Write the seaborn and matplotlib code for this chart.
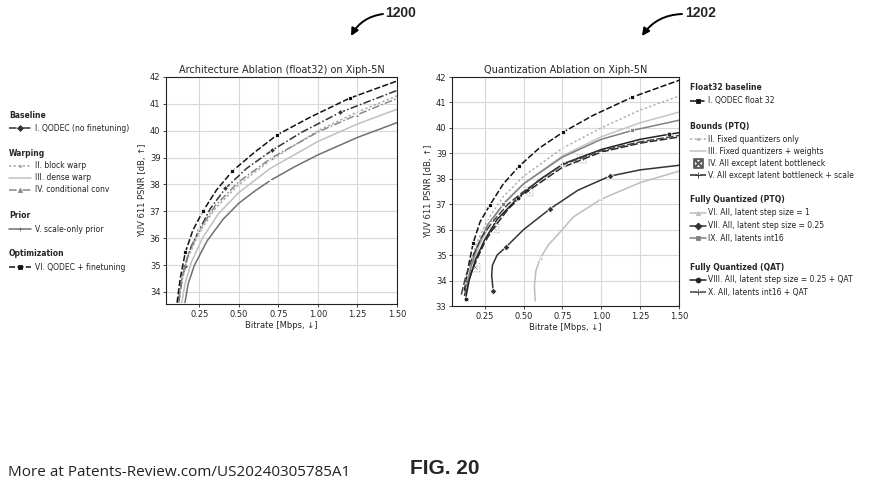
import matplotlib
matplotlib.use("Agg")
import matplotlib.pyplot as plt
from matplotlib.lines import Line2D
import seaborn as sns

# ---- left panel: architecture ablation ----
a1_x = [0.12, 0.14, 0.158, 0.2, 0.25, 0.32, 0.415, 0.55, 0.71, 0.9, 1.14, 1.5]
a1_y = [33.6, 34.4, 34.95, 35.7, 36.3, 37.1, 37.85, 38.6, 39.27, 39.95, 40.68, 41.5]
a2_x = [0.12, 0.14, 0.18, 0.25, 0.35, 0.5, 0.7, 1.0, 1.25, 1.5]
a2_y = [33.6, 34.4, 35.3, 36.2, 37.1, 38.0, 38.9, 40.0, 40.7, 41.3]
a3_x = [0.14, 0.16, 0.2, 0.27, 0.37, 0.5, 0.7, 1.0, 1.25, 1.5]
a3_y = [33.6, 34.3, 35.1, 36.0, 36.9, 37.7, 38.6, 39.6, 40.25, 40.8]
a4_x = [0.12, 0.14, 0.18, 0.25, 0.35, 0.5, 0.71, 1.0, 1.25, 1.5]
a4_y = [33.7, 34.5, 35.4, 36.3, 37.2, 38.1, 39.0, 39.95, 40.6, 41.2]
a5_x = [0.16, 0.18, 0.22, 0.3, 0.4, 0.5, 0.6, 0.7, 0.85, 1.0, 1.25, 1.5]
a5_y = [33.6, 34.3, 35.0, 35.9, 36.7, 37.3, 37.75, 38.15, 38.65, 39.1, 39.75, 40.3]
a6_x = [0.11, 0.13, 0.162, 0.21, 0.274, 0.36, 0.46, 0.6, 0.744, 0.95, 1.2, 1.5]
a6_y = [33.6, 34.5, 35.47, 36.3, 37.01, 37.8, 38.5, 39.2, 39.85, 40.5, 41.21, 41.85]

# ---- right panel: quantization ablation ----
q1_x = [0.12, 0.15, 0.176, 0.22, 0.282, 0.37, 0.473, 0.6, 0.756, 0.95, 1.2, 1.5]
q1_y = [33.6, 34.7, 35.47, 36.3, 36.95, 37.8, 38.5, 39.2, 39.84, 40.5, 41.21, 41.87]
q2_x = [0.13, 0.16, 0.2, 0.27, 0.37, 0.5, 0.75, 1.0, 1.25, 1.5]
q2_y = [33.8, 34.7, 35.5, 36.4, 37.3, 38.1, 39.2, 40.0, 40.7, 41.25]
q3_x = [0.14, 0.17, 0.21, 0.28, 0.38, 0.5, 0.75, 1.0, 1.25, 1.5]
q3_y = [33.8, 34.6, 35.3, 36.2, 37.1, 37.8, 38.9, 39.65, 40.2, 40.62]
q4_x = [0.19, 0.31, 0.53, 0.87]
q4_y = [34.55, 36.05, 37.5, 38.8]
q5_x = [0.12, 0.15, 0.19, 0.25, 0.3, 0.4, 0.5, 0.75, 1.0, 1.25, 1.5]
q5_y = [33.4, 34.1, 34.7, 35.5, 36.0, 36.8, 37.4, 38.45, 39.05, 39.4, 39.64]
q6_x = [0.575, 0.57, 0.58, 0.61, 0.66, 0.72, 0.82, 1.0, 1.25, 1.5]
q6_y = [33.2, 33.8, 34.4, 34.9, 35.4, 35.8, 36.5, 37.2, 37.85, 38.3]
q7_x = [0.305, 0.295, 0.30, 0.33, 0.388, 0.5, 0.671, 0.85, 1.053, 1.25, 1.5]
q7_y = [33.6, 34.2, 34.6, 35.0, 35.32, 36.0, 36.82, 37.55, 38.1, 38.35, 38.53]
q9_x = [0.13, 0.16, 0.2, 0.27, 0.37, 0.5, 0.75, 1.0, 1.2, 1.5]
q9_y = [33.5, 34.5, 35.3, 36.2, 37.0, 37.8, 38.85, 39.55, 39.9, 40.3]
q8_x = [0.127, 0.15, 0.19, 0.25, 0.33, 0.463, 0.6, 0.756, 1.0, 1.25, 1.436, 1.5]
q8_y = [33.26, 34.0, 34.8, 35.6, 36.4, 37.24, 37.95, 38.59, 39.15, 39.55, 39.75, 39.81]
q10_x = [0.1, 0.13, 0.17, 0.23, 0.3, 0.4, 0.5, 0.75, 1.0, 1.25, 1.5]
q10_y = [33.45, 34.2, 34.9, 35.7, 36.3, 37.0, 37.5, 38.55, 39.1, 39.45, 39.7]

left_labels = ["I. QODEC (no finetuning)", "II. block warp", "III. dense warp",
               "IV. conditional conv", "V. scale-only prior", "VI. QODEC + finetuning"]
right_labels = ["I. QODEC float 32", "II. Fixed quantizers only",
                "III. Fixed quantizers + weights", "IV. All except latent bottleneck",
                "V. All except latent bottleneck + scale", "VI. All, latent step size = 1",
                "VII. All, latent step size = 0.25", "IX. All, latents int16",
                "VIII. All, latent step size = 0.25 + QAT", "X. All, latents int16 + QAT"]

sns.set_theme(style="ticks")
plt.rcParams["font.family"] = ["DejaVu Sans"]

fig = plt.figure(figsize=(8.8, 4.92), dpi=100)
fig.patch.set_facecolor("white")
W, H = 880.0, 492.0
axL = fig.add_axes([166 / W, 1 - 304 / H, 231 / W, 227 / H])
axR = fig.add_axes([452 / W, 1 - 306 / H, 227 / W, 229 / H])

lw = 1.1
# style: color, linestyle, marker, markevery, markersize, mfc
left_styles = [
    ("#333333", (0, (5, 1.5, 1, 1.5)), "D", [2, 4, 6, 8, 10], 3, None),
    ("#a8a8a8", (0, (1.5, 1.5)), ".", [3, 6, 8], 3, None),
    ("#c0c0c0", "-", None, None, 0, None),
    ("#888888", (0, (5, 1.5, 1, 1.5)), "^", [3, 6, 8], 3, None),
    ("#707070", "-", "+", [7], 3, None),
    ("#111111", (0, (4, 1.5)), "s", [2, 4, 6, 8, 10], 3.5, None),
]
left_data = [(a1_x, a1_y), (a2_x, a2_y), (a3_x, a3_y), (a4_x, a4_y), (a5_x, a5_y), (a6_x, a6_y)]
for (xs, ys), (c, ls, m, me, ms, mfc), lab in zip(left_data, left_styles, left_labels):
    sns.lineplot(x=xs, y=ys, ax=axL, sort=False, estimator=None, color=c, linestyle=ls,
                 linewidth=lw, marker=m, markevery=me, markersize=ms,
                 markeredgewidth=0.6, label=lab, legend=False)

right_styles = [
    ("#111111", (0, (4, 1.5)), "s", [2, 4, 6, 8, 10], 3.5, None),
    ("#b0b0b0", (0, (1.5, 1.5)), ".", [3, 6], 3, None),
    ("#c4c4c4", "-", None, None, 0, None),
    ("#555555", "none", r"$\boxtimes$", None, 7, None),
    ("#2a2a2a", (0, (5, 1.5)), "+", [3, 6, 8], 4, None),
    ("#bdbdbd", "-", "^", [3, 7], 3, None),
    ("#333333", "-", "D", [0, 4, 6, 8], 3.5, None),
    ("#808080", "-", "s", [4, 8], 3, None),
    ("#222222", "-", "o", [0, 5, 7, 10], 3.5, None),
    ("#444444", (0, (5, 1.5)), "+", [4, 7], 4, None),
]
right_data = [(q1_x, q1_y), (q2_x, q2_y), (q3_x, q3_y), (q4_x, q4_y), (q5_x, q5_y),
              (q6_x, q6_y), (q7_x, q7_y), (q9_x, q9_y), (q8_x, q8_y), (q10_x, q10_y)]
for (xs, ys), (c, ls, m, me, ms, mfc), lab in zip(right_data, right_styles, right_labels):
    sns.lineplot(x=xs, y=ys, ax=axR, sort=False, estimator=None, color=c, linestyle=ls,
                 linewidth=lw, marker=m, markevery=me, markersize=ms,
                 markeredgewidth=0.6, label=lab, legend=False)

for ax, ymin, yticks, title in [
        (axL, 33.55, range(34, 43), "Architecture Ablation (float32) on Xiph-5N"),
        (axR, 33.0, range(33, 43), "Quantization Ablation on Xiph-5N")]:
    ax.set_xlim(0.04, 1.5)
    ax.set_ylim(ymin, 42)
    ax.set_xticks([0.25, 0.5, 0.75, 1.0, 1.25, 1.5])
    ax.set_xticklabels(["0.25", "0.50", "0.75", "1.00", "1.25", "1.50"])
    ax.set_yticks(list(yticks))
    ax.grid(True, color="#d8d8d8", linewidth=0.8)
    ax.tick_params(labelsize=6, length=2.5, width=0.6, pad=1.5)
    for s in ax.spines.values():
        s.set_color("#222222")
        s.set_linewidth(0.8)
    ax.set_title(title, fontsize=7, pad=3)
    ax.set_xlabel("Bitrate [Mbps, \u2193]", fontsize=6, labelpad=2)
    ax.set_ylabel("YUV 611 PSNR [dB, \u2191]", fontsize=6, labelpad=2)


def draw_legend(x_handle, x_len, x_text, rows, styles, labels):
    for row in rows:
        y = 1 - row[0] / H
        if row[1] == "header":
            fig.text(x_handle / W, y, row[2], fontsize=5.5, fontweight="bold",
                     va="center", ha="left")
            continue
        c, ls, m, me, ms, mfc = styles[row[1]]
        x0, x1 = x_handle / W, (x_handle + x_len) / W
        if ls != "none":
            fig.add_artist(Line2D([x0, x1], [y, y], transform=fig.transFigure,
                                  color=c, linestyle=ls, linewidth=lw))
        if m is not None:
            fig.add_artist(Line2D([(x0 + x1) / 2], [y], transform=fig.transFigure,
                                  color=c, marker=m, markersize=ms,
                                  markeredgewidth=0.6, linestyle="none"))
        fig.text(x_text / W, y, labels[row[1]], fontsize=5.5, va="center", ha="left",
                 color="#222222")


draw_legend(9, 22, 35, [
    (115, "header", "Baseline"), (128, 0),
    (153, "header", "Warping"), (166, 1), (178, 2), (190, 3),
    (215, "header", "Prior"), (229, 4),
    (254, "header", "Optimization"), (267, 5)], left_styles, left_labels)

draw_legend(690, 16, 708, [
    (88, "header", "Float32 baseline"), (101, 0),
    (126, "header", "Bounds (PTQ)"), (139, 1), (151, 2), (163, 3), (175, 4),
    (200, "header", "Fully Quantized (PTQ)"), (213, 5), (226, 6), (238, 7),
    (267, "header", "Fully Quantized (QAT)"), (280, 8), (292, 9)], right_styles, right_labels)

# reference numerals with curved arrows
for num, tx, tip in [("1200", 401, (351, 36)), ("1202", 700, (642, 36))]:
    fig.text(tx / W, 1 - 13 / H, num, fontsize=10, fontweight="bold",
             family="Liberation Sans", ha="center", va="center")
    axL.annotate("", xy=(tip[0] / W, 1 - tip[1] / H),
                 xytext=((tx - 18) / W, 1 - 14 / H), xycoords="figure fraction",
                 textcoords="figure fraction", annotation_clip=False,
                 arrowprops=dict(arrowstyle="-|>", color="black", lw=1.4,
                                 mutation_scale=11, shrinkA=0, shrinkB=0,
                                 connectionstyle="arc3,rad=0.25"))

fig.text(8 / W, 1 - 473 / H, "More at Patents-Review.com/US20240305785A1",
         fontsize=11, family="Open Sans", ha="left", va="center", color="#222222")
fig.text(445 / W, 1 - 469 / H, "FIG. 20", fontsize=15, fontweight="bold",
         family="Liberation Sans", ha="center", va="center")

plt.savefig("out.png", dpi=100, facecolor="white")
